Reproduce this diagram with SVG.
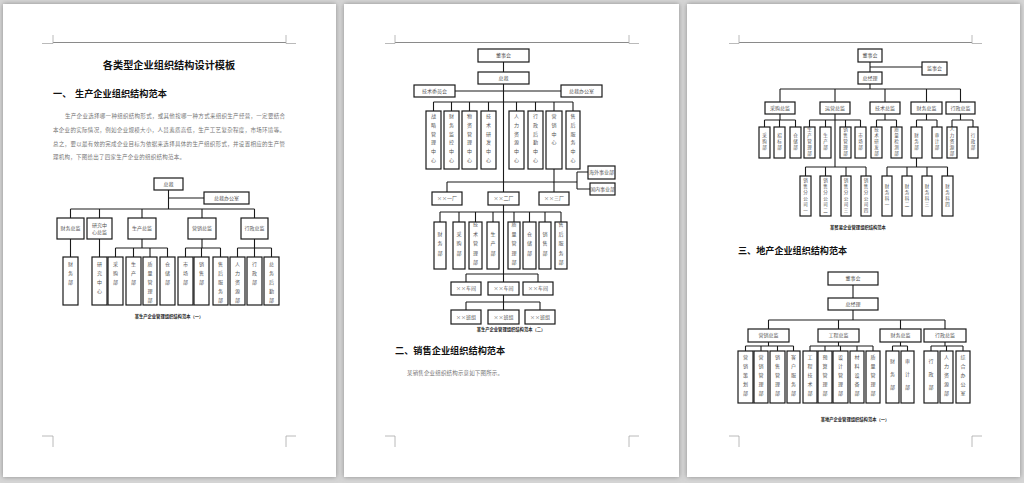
<svg xmlns="http://www.w3.org/2000/svg" width="1024" height="483" viewBox="0 0 1024 483">
<defs>
<filter id="ds" x="-5%" y="-5%" width="110%" height="110%"><feDropShadow dx="0" dy="0" stdDeviation="2.5" flood-color="#7a7a7a" flood-opacity="0.8"/></filter>
<style>
.pg{fill:#fff;filter:url(#ds)}
.hl{stroke:#8a8a8a;stroke-width:1;fill:none}
.cm{stroke:#a8a8a8;stroke-width:0.8;fill:none}
.b{fill:#fff;stroke:#1a1a1a;stroke-width:1.2}
.c{fill:none;stroke:#1a1a1a;stroke-width:1.1}
.t{font-family:"Noto Sans CJK SC","Noto Sans CJK TC",sans-serif;font-size:5px;fill:#555;text-anchor:middle}
.v{font-family:"Noto Sans CJK SC","Noto Sans CJK TC",sans-serif;font-size:5px;fill:#555;writing-mode:vertical-rl;letter-spacing:4px}
.vs{font-family:"Noto Sans CJK SC","Noto Sans CJK TC",sans-serif;font-size:4.5px;fill:#555;writing-mode:vertical-rl;letter-spacing:1.5px;text-anchor:middle}
.vm{font-family:"Noto Sans CJK SC","Noto Sans CJK TC",sans-serif;font-size:5px;fill:#555;writing-mode:vertical-rl;letter-spacing:4.5px;text-anchor:middle}
.ti{font-family:"Noto Sans CJK SC","Noto Sans CJK TC",sans-serif;font-weight:bold;fill:#111}
.p{font-family:"Noto Sans CJK SC","Noto Sans CJK TC",sans-serif;font-size:5.5px;fill:#777}
.cap{font-family:"Noto Sans CJK SC","Noto Sans CJK TC",sans-serif;font-weight:bold;font-size:4.3px;fill:#222;text-anchor:middle}
</style>
</defs>
<rect width="1024" height="483" fill="#d6d6d6"/>
<g id="pages">
<rect class="pg" x="3" y="4" width="333" height="473"/>
<rect class="pg" x="344" y="4" width="335" height="473"/>
<rect class="pg" x="687" y="4" width="333" height="473"/>
</g>
<g id="page-marks">
<path class="hl" d="M53 42.5H286M395 42.5H629M739 42.5H972"/>
<path class="cm" d="M53 35V43.5H42M286 35V43.5H296M53 447V436H42M286 447V436H296"/>
<path class="cm" d="M395 35V43.5H385M629 35V43.5H639M395 447V436H385M629 447V436H639"/>
<path class="cm" d="M739 35V43.5H729M972 35V43.5H982M739 447V436H729M972 447V436H982"/>
</g>

<!-- PAGE 1 text -->
<g id="p1-text">
<text class="ti" x="169" y="69" font-size="10.2" text-anchor="middle">各类型企业组织结构设计模板</text>
<text class="ti" x="53" y="96.5" font-size="9.2">一、</text>
<text class="ti" x="75" y="96.5" font-size="9.2">生产企业组织结构范本</text>
<text class="p" x="65" y="118" textLength="220" lengthAdjust="spacing">生产企业选择哪一种组织结构形式，或其他按哪一种方式来组织生产经营，一定要结合</text>
<text class="p" x="53" y="132" textLength="232" lengthAdjust="spacing">本企业的实际情况，例如企业规模大小，人员素质高低，生产工艺复杂程度，市场环境等。</text>
<text class="p" x="53" y="145.5" textLength="232" lengthAdjust="spacing">总之，要以最有效的完成企业目标为依据来选择具体的生产组织形式，并设置相应的生产管</text>
<text class="p" x="53" y="159" textLength="132" lengthAdjust="spacing">理机构，下图给出了四家生产企业的组织结构范本。</text>
<text class="cap" x="169" y="318">某生产企业管理组织结构范本（一）</text>
</g>
<g id="p1-connectors">
<path class="c" d="M168.5 190V209M168.5 198H204M70.5 209H254.5M70.5 209V218M99.5 209V218M142 209V218M202 209V218M254.5 209V218"/>
<path class="c" d="M70.5 239V257M99.5 239V257M142 239V248M115.5 248H167.5M115.5 248V257M133.5 248V257M150 248V257M167.5 248V257"/>
<path class="c" d="M202 239V248M185.5 248H220.5M185.5 248V257M201.5 248V257M220.5 248V257"/>
<path class="c" d="M254.5 239V248M237.5 248H271.5M237.5 248V257M254.5 248V257M271.5 248V257"/>
</g>
<g id="p1-ceo"><rect class="b" x="154" y="178" width="29" height="12"/><text class="t" x="168.5" y="185.8">总裁</text></g>
<g id="p1-office"><rect class="b" x="204" y="192" width="45" height="12"/><text class="t" x="226.5" y="199.8">总裁办公室</text></g>
<g id="p1-cfo"><rect class="b" x="57" y="218" width="27" height="21"/><text class="t" x="70.5" y="230.3">财务总监</text></g>
<g id="p1-rd"><rect class="b" x="87" y="218" width="25" height="21"/><text class="t" x="99.5" y="227">研究中</text><text class="t" x="99.5" y="234">心总监</text></g>
<g id="p1-prod"><rect class="b" x="128" y="218" width="28" height="21"/><text class="t" x="142" y="230.3">生产总监</text></g>
<g id="p1-mkt"><rect class="b" x="188" y="218" width="28" height="21"/><text class="t" x="202" y="230.3">营销总监</text></g>
<g id="p1-adm"><rect class="b" x="241" y="218" width="27" height="21"/><text class="t" x="254.5" y="230.3">行政总监</text></g>
<g id="p1-fin"><rect class="b" x="63" y="257" width="15" height="48"/><text class="v" x="70.5" y="262">财务部</text></g>
<g id="p1-rdc"><rect class="b" x="92" y="257" width="15" height="48"/><text class="v" x="99.5" y="262">研究中心</text></g>
<g id="p1-pur"><rect class="b" x="108" y="257" width="15" height="48"/><text class="v" x="115.5" y="262">采购部</text></g>
<g id="p1-pro"><rect class="b" x="126" y="257" width="15" height="48"/><text class="v" x="133.5" y="262">生产部</text></g>
<g id="p1-qa"><rect class="b" x="143" y="257" width="14" height="48"/><text class="v" x="150" y="262">质量管理部</text></g>
<g id="p1-wh"><rect class="b" x="160" y="257" width="15" height="48"/><text class="v" x="167.5" y="262">仓储部</text></g>
<g id="p1-mk"><rect class="b" x="178" y="257" width="15" height="48"/><text class="v" x="185.5" y="262">市场部</text></g>
<g id="p1-sal"><rect class="b" x="194" y="257" width="15" height="48"/><text class="v" x="201.5" y="262">销售部</text></g>
<g id="p1-svc"><rect class="b" x="213" y="257" width="15" height="48"/><text class="v" x="220.5" y="262">售后服务部</text></g>
<g id="p1-hr"><rect class="b" x="230" y="257" width="15" height="48"/><text class="v" x="237.5" y="262">人力资源部</text></g>
<g id="p1-ad"><rect class="b" x="247" y="257" width="15" height="48"/><text class="v" x="254.5" y="262">行政部</text></g>
<g id="p1-gen"><rect class="b" x="264" y="257" width="15" height="48"/><text class="v" x="271.5" y="262">总务后勤部</text></g>

<!-- PAGE 2 -->
<g id="p2-text">
<text class="cap" x="511" y="331">某生产企业管理组织结构范本（二）</text>
<text class="ti" x="395" y="353.5" font-size="9.2">二、销售企业组织结构范本</text>
<text class="p" x="407" y="375" textLength="96" lengthAdjust="spacing">某销售企业组织结构示意如下图所示。</text>
</g>
<g id="p2-connectors">
<path class="c" d="M503.5 62V72M503.5 84V310M455 91H561M433.5 102H573"/>
<path class="c" d="M433.5 102V111M451.5 102V111M469.5 102V111M488.5 102V111M516.5 102V111M535.5 102V111M554 102V111M573 102V111"/>
<path class="c" d="M554 169V182H577M577 172V189M577 172H588M577 189H590"/>
<path class="c" d="M447 182H554M447 182V192M554 182V192"/>
<path class="c" d="M440 212H561M440 212V222M459 212V222M475.5 212V222M493 212V222M514 212V222M529.5 212V222M545 212V222M561 212V222"/>
<path class="c" d="M466 274H538M466 274V282M538 274V282M466 302H540M466 302V310M540 302V310"/>
</g>
<g id="p2-board"><rect class="b" x="478" y="49" width="51" height="13"/><text class="t" x="503.5" y="57.3">董事会</text></g>
<g id="p2-ceo"><rect class="b" x="478" y="72" width="51" height="12"/><text class="t" x="503.5" y="79.8">总裁</text></g>
<g id="p2-tech"><rect class="b" x="414" y="85" width="41" height="12"/><text class="t" x="434.5" y="92.8">技术委员会</text></g>
<g id="p2-office"><rect class="b" x="561" y="85" width="41" height="12"/><text class="t" x="581.5" y="92.8">总裁办公室</text></g>
<g id="p2-c1"><rect class="b" x="426" y="111" width="15" height="58"/><text class="v" x="433.5" y="114" style="letter-spacing:3.7px">战略管理中心</text></g>
<g id="p2-c2"><rect class="b" x="444" y="111" width="15" height="58"/><text class="v" x="451.5" y="114" style="letter-spacing:3.7px">财务监控中心</text></g>
<g id="p2-c3"><rect class="b" x="462" y="111" width="15" height="58"/><text class="v" x="469.5" y="114" style="letter-spacing:3.7px">物资管理中心</text></g>
<g id="p2-c4"><rect class="b" x="481" y="111" width="15" height="58"/><text class="v" x="488.5" y="114" style="letter-spacing:3.7px">技术研发中心</text></g>
<g id="p2-c5"><rect class="b" x="509" y="111" width="15" height="58"/><text class="v" x="516.5" y="114" style="letter-spacing:3.7px">人力资源中心</text></g>
<g id="p2-c6"><rect class="b" x="528" y="111" width="15" height="58"/><text class="v" x="535.5" y="114" style="letter-spacing:3.7px">行政后勤中心</text></g>
<g id="p2-c7"><rect class="b" x="546" y="111" width="16" height="58"/><text class="v" x="554" y="114" style="letter-spacing:3.7px">营销中心</text></g>
<g id="p2-c8"><rect class="b" x="566" y="111" width="14" height="58"/><text class="v" x="573" y="114" style="letter-spacing:3.7px">售后服务中心</text></g>
<g id="p2-overseas"><rect class="b" x="588" y="166" width="27" height="13"/><text class="t" x="601.5" y="174.3">海外事业部</text></g>
<g id="p2-domestic"><rect class="b" x="590" y="183" width="25" height="12"/><text class="t" x="602.5" y="190.8">国内事业部</text></g>
<g id="p2-f1"><rect class="b" x="432" y="192" width="30" height="13"/><text class="t" x="447" y="200.3">××一厂</text></g>
<g id="p2-f2"><rect class="b" x="488" y="192" width="31" height="13"/><text class="t" x="503.5" y="200.3">××二厂</text></g>
<g id="p2-f3"><rect class="b" x="539" y="192" width="30" height="13"/><text class="t" x="554" y="200.3">××三厂</text></g>
<g id="p2-d1"><rect class="b" x="434" y="222" width="12" height="47"/><text class="vm" x="440" y="245.5">财务部</text></g>
<g id="p2-d2"><rect class="b" x="453" y="222" width="12" height="47"/><text class="vm" x="459" y="245.5">采购部</text></g>
<g id="p2-d3"><rect class="b" x="469" y="222" width="13" height="47"/><text class="vm" x="475.5" y="245.5">技术管理部</text></g>
<g id="p2-d4"><rect class="b" x="487" y="222" width="12" height="47"/><text class="vm" x="493" y="245.5">生产部</text></g>
<g id="p2-d5"><rect class="b" x="508" y="222" width="12" height="47"/><text class="vm" x="514" y="245.5">质量管理部</text></g>
<g id="p2-d6"><rect class="b" x="523" y="222" width="13" height="47"/><text class="vm" x="529.5" y="245.5">仓储部</text></g>
<g id="p2-d7"><rect class="b" x="539" y="222" width="12" height="47"/><text class="vm" x="545" y="245.5">销售部</text></g>
<g id="p2-d8"><rect class="b" x="555" y="222" width="12" height="47"/><text class="vm" x="561" y="245.5">售后服务部</text></g>
<g id="p2-w1"><rect class="b" x="451" y="282" width="30" height="13"/><text class="t" x="466" y="290.3">××车间</text></g>
<g id="p2-w2"><rect class="b" x="488" y="282" width="31" height="13"/><text class="t" x="503.5" y="290.3">××车间</text></g>
<g id="p2-w3"><rect class="b" x="523" y="282" width="30" height="13"/><text class="t" x="538" y="290.3">××车间</text></g>
<g id="p2-t1"><rect class="b" x="451" y="310" width="30" height="14"/><text class="t" x="466" y="318.8">××班组</text></g>
<g id="p2-t2"><rect class="b" x="488" y="310" width="31" height="14"/><text class="t" x="503.5" y="318.8">××班组</text></g>
<g id="p2-t3"><rect class="b" x="525" y="310" width="30" height="14"/><text class="t" x="540" y="318.8">××班组</text></g>

<!-- PAGE 3 -->
<g id="p3-text">
<text class="cap" x="858" y="229">某贸易企业管理组织结构范本</text>
<text class="ti" x="738" y="253.5" font-size="9.1">三、地产企业组织结构范本</text>
<text class="cap" x="855" y="421">某地产企业管理组织结构范本（一）</text>
</g>
<g id="p3-connectors">
<path class="c" d="M870 62V72M870 67H922M870 84V89M780 89H960.5M780 89V102M835 89V102M885 89V102M926.5 89V102M960.5 89V102"/>
<path class="c" d="M780 114V120M764.5 120H795.5M764.5 120V127M779.5 120V127M795.5 120V127"/>
<path class="c" d="M835 114V167M809.5 120H860.5M809.5 120V127M825.5 120V127M845.5 120V127M860.5 120V127"/>
<path class="c" d="M885 114V120M876.5 120H896.5M876.5 120V127M896.5 120V127"/>
<path class="c" d="M926.5 114V120M916.5 120H937M916.5 120V127M937 120V127"/>
<path class="c" d="M960.5 114V120M952 120H973M952 120V127M973 120V127"/>
<path class="c" d="M805.5 167H866M805.5 167V176M825.5 167V176M846 167V176M866 167V176"/>
<path class="c" d="M916.5 158V167M887 167H947.5M887 167V176M907 167V176M927 167V176M947.5 167V176"/>
<path class="c" d="M853 285V298M853 310V320M768.5 320H945M768.5 320V329M838.5 320V329M900.5 320V329M945 320V329"/>
<path class="c" d="M768.5 342V346M745.5 346H793.5M745.5 346V351M761 346V351M777.5 346V351M793.5 346V351"/>
<path class="c" d="M838.5 342V346M810 346H873M810 346V351M825 346V351M840.5 346V351M857 346V351M873 346V351"/>
<path class="c" d="M900.5 342V346M892.5 346H907.5M892.5 346V351M907.5 346V351"/>
<path class="c" d="M945 342V346M931 346H963M931 346V351M946.5 346V351M963 346V351"/>
</g>
<g id="p3-board"><rect class="b" x="858" y="49" width="24" height="13"/><text class="t" x="870" y="57.3">董事会</text></g>
<g id="p3-super"><rect class="b" x="922" y="62" width="25" height="13"/><text class="t" x="934.5" y="70.3">监事会</text></g>
<g id="p3-gm"><rect class="b" x="858" y="72" width="24" height="12"/><text class="t" x="870" y="79.8">总经理</text></g>
<g id="p3-l2a"><rect class="b" x="765" y="102" width="30" height="12"/><text class="t" x="780" y="109.8">采购总监</text></g>
<g id="p3-l2b"><rect class="b" x="820" y="102" width="30" height="12"/><text class="t" x="835" y="109.8">运营总监</text></g>
<g id="p3-l2c"><rect class="b" x="870" y="102" width="30" height="12"/><text class="t" x="885" y="109.8">技术总监</text></g>
<g id="p3-l2d"><rect class="b" x="911" y="102" width="31" height="12"/><text class="t" x="926.5" y="109.8">财务总监</text></g>
<g id="p3-l2e"><rect class="b" x="946" y="102" width="29" height="12"/><text class="t" x="960.5" y="109.8">行政总监</text></g>
<g id="p3-a1"><rect class="b" x="759" y="127" width="11" height="31"/><text class="vs" x="764.5" y="142.5">采购部</text></g>
<g id="p3-a2"><rect class="b" x="774" y="127" width="11" height="31"/><text class="vs" x="779.5" y="142.5">招标部</text></g>
<g id="p3-a3"><rect class="b" x="790" y="127" width="11" height="31"/><text class="vs" x="795.5" y="142.5">仓储部</text></g>
<g id="p3-b1"><rect class="b" x="804" y="127" width="11" height="31"/><text class="vs" x="809.5" y="142.5">生产管理部</text></g>
<g id="p3-b2"><rect class="b" x="820" y="127" width="11" height="31"/><text class="vs" x="825.5" y="142.5">生产部</text></g>
<g id="p3-b3"><rect class="b" x="840" y="127" width="11" height="31"/><text class="vs" x="845.5" y="142.5">销售管理部</text></g>
<g id="p3-b4"><rect class="b" x="855" y="127" width="11" height="31"/><text class="vs" x="860.5" y="142.5">市场部</text></g>
<g id="p3-c1"><rect class="b" x="871" y="127" width="11" height="31"/><text class="vs" x="876.5" y="142.5">技术研发部</text></g>
<g id="p3-c2"><rect class="b" x="891" y="127" width="11" height="31"/><text class="vs" x="896.5" y="142.5">质量检测部</text></g>
<g id="p3-d1"><rect class="b" x="911" y="127" width="11" height="31"/><text class="vs" x="916.5" y="142.5">财务部</text></g>
<g id="p3-d2"><rect class="b" x="932" y="127" width="10" height="31"/><text class="vs" x="937" y="142.5">审计部</text></g>
<g id="p3-e1"><rect class="b" x="947" y="127" width="10" height="31"/><text class="vs" x="952" y="142.5">人力资源部</text></g>
<g id="p3-e2"><rect class="b" x="968" y="127" width="10" height="31"/><text class="vs" x="973" y="142.5">行政部</text></g>
<g id="p3-s1"><rect class="b" x="800" y="176" width="11" height="40"/><text class="vs" x="805.5" y="196">销售分公司一</text></g>
<g id="p3-s2"><rect class="b" x="820" y="176" width="11" height="40"/><text class="vs" x="825.5" y="196">销售分公司二</text></g>
<g id="p3-s3"><rect class="b" x="841" y="176" width="10" height="40"/><text class="vs" x="846" y="196">销售分公司三</text></g>
<g id="p3-s4"><rect class="b" x="861" y="176" width="10" height="40"/><text class="vs" x="866" y="196">销售分公司四</text></g>
<g id="p3-f1"><rect class="b" x="882" y="176" width="10" height="40"/><text class="vs" x="887" y="196">财务科一</text></g>
<g id="p3-f2"><rect class="b" x="902" y="176" width="10" height="40"/><text class="vs" x="907" y="196">财务科二</text></g>
<g id="p3-f3"><rect class="b" x="922" y="176" width="10" height="40"/><text class="vs" x="927" y="196">财务科三</text></g>
<g id="p3-f4"><rect class="b" x="942" y="176" width="11" height="40"/><text class="vs" x="947.5" y="196">财务科四</text></g>
<g id="p3r-board"><rect class="b" x="828" y="272" width="50" height="13"/><text class="t" x="853" y="280.3">董事会</text></g>
<g id="p3r-gm"><rect class="b" x="828" y="298" width="50" height="12"/><text class="t" x="853" y="305.8">总经理</text></g>
<g id="p3r-mkt"><rect class="b" x="748" y="329" width="41" height="13"/><text class="t" x="768.5" y="337.3">营销总监</text></g>
<g id="p3r-eng"><rect class="b" x="818" y="329" width="41" height="13"/><text class="t" x="838.5" y="337.3">工程总监</text></g>
<g id="p3r-fin"><rect class="b" x="880" y="329" width="41" height="13"/><text class="t" x="900.5" y="337.3">财务总监</text></g>
<g id="p3r-adm"><rect class="b" x="924" y="329" width="42" height="13"/><text class="t" x="945" y="337.3">行政总监</text></g>
<g id="p3r-m1"><rect class="b" x="738" y="351" width="15" height="52"/><text class="v" x="745.5" y="355">营销策划部</text></g>
<g id="p3r-m2"><rect class="b" x="754" y="351" width="14" height="52"/><text class="v" x="761" y="355">营销管理部</text></g>
<g id="p3r-m3"><rect class="b" x="770" y="351" width="15" height="52"/><text class="v" x="777.5" y="355">销售管理部</text></g>
<g id="p3r-m4"><rect class="b" x="787" y="351" width="13" height="52"/><text class="v" x="793.5" y="355">客户服务部</text></g>
<g id="p3r-e1"><rect class="b" x="803" y="351" width="14" height="52"/><text class="v" x="810" y="355">工程技术部</text></g>
<g id="p3r-e2"><rect class="b" x="818" y="351" width="14" height="52"/><text class="v" x="825" y="355">预算管理部</text></g>
<g id="p3r-e3"><rect class="b" x="833" y="351" width="15" height="52"/><text class="v" x="840.5" y="355">设计管理部</text></g>
<g id="p3r-e4"><rect class="b" x="850" y="351" width="14" height="52"/><text class="v" x="857" y="355">材料设备部</text></g>
<g id="p3r-e5"><rect class="b" x="866" y="351" width="14" height="52"/><text class="v" x="873" y="355">质量管理部</text></g>
<g id="p3r-f1"><rect class="b" x="886" y="351" width="13" height="52"/><text class="v" x="892.5" y="359" style="letter-spacing:8px">财务部</text></g>
<g id="p3r-f2"><rect class="b" x="901" y="351" width="13" height="52"/><text class="v" x="907.5" y="359" style="letter-spacing:8px">审计部</text></g>
<g id="p3r-a1"><rect class="b" x="924" y="351" width="14" height="52"/><text class="v" x="931" y="359" style="letter-spacing:8px">行政部</text></g>
<g id="p3r-a2"><rect class="b" x="940" y="351" width="13" height="52"/><text class="v" x="946.5" y="355">人力资源部</text></g>
<g id="p3r-a3"><rect class="b" x="956" y="351" width="14" height="52"/><text class="v" x="963" y="355">综合办公室</text></g>
</svg>
